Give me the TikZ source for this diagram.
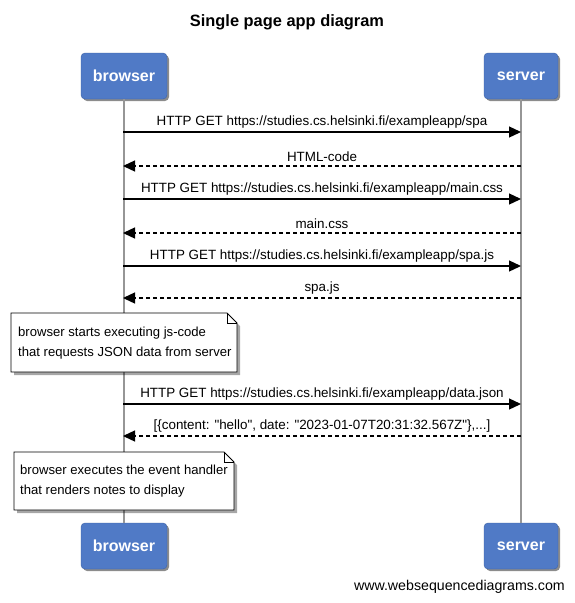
\documentclass[tikz,border=0pt]{standalone}
\usepackage{fontspec}
\setmainfont{Liberation Sans}[Ligatures=TeXOff]
\usetikzlibrary{arrows.meta,shadows}
\definecolor{boxblue}{RGB}{80,122,198}
\definecolor{boxedge}{RGB}{62,98,165}
\definecolor{lifegray}{RGB}{150,150,150}
\begin{document}
\begin{tikzpicture}[x=1pt,y=-1pt,
  actor/.style={draw=boxedge, fill=boxblue, rounded corners=4pt, minimum height=46pt, inner sep=0pt,
    text=white, font=\fontsize{16}{19}\selectfont\bfseries,
    drop shadow={shadow xshift=2pt, shadow yshift=-2pt, opacity=0.45, fill=black}},
  lifeline/.style={draw=lifegray, line width=1.6pt},
  msg/.style={draw=black, line width=1.3pt, -{Triangle[length=12pt,width=11pt]}},
  reply/.style={msg, dash pattern=on 4pt off 3pt},
  lbl/.style={font=\fontsize{13.4}{15}\selectfont, inner sep=0pt},
  notebox/.style={draw=black, fill=white, line width=0.8pt},
  noteshadow/.style={fill=black, opacity=0.35},
  notetext/.style={font=\fontsize{13.1}{20}\selectfont, align=left, inner sep=0pt, anchor=west}
]
\useasboundingbox[fill=white] (0,0) rectangle (574,603);

\node[font=\fontsize{16.4}{19}\selectfont\bfseries] (title) at (287,22) {Single page app diagram};

\node[actor, minimum width=86pt] (bt) at (124,76) {browser};
\node[actor, minimum width=74pt] (st) at (521,76) {server};
\node[actor, minimum width=86pt] (bb) at (124,546) {browser};
\node[actor, minimum width=74pt] (sb) at (521,546) {server};

\draw[lifeline] (bt.south) -- (bb.north);
\draw[lifeline] (st.south) -- (sb.north);

% messages
\coordinate (b1) at (123,132); \coordinate (s1) at (521,132);
\coordinate (b2) at (123,166); \coordinate (s2) at (521,166);
\coordinate (b3) at (123,199); \coordinate (s3) at (521,199);
\coordinate (b4) at (123,233); \coordinate (s4) at (521,233);
\coordinate (b5) at (123,266); \coordinate (s5) at (521,266);
\coordinate (b6) at (123,298); \coordinate (s6) at (521,298);
\coordinate (b7) at (123,404); \coordinate (s7) at (521,404);
\coordinate (b8) at (123,436); \coordinate (s8) at (521,436);

\draw[msg] (b1) -- (s1) node[lbl, midway, above=3.5pt] (m1) {HTTP GET https://studies.cs.helsinki.fi/exampleapp/spa};
\draw[reply] (s2) -- (b2) node[lbl, midway, above=3.5pt] (m2) {HTML-code};
\draw[msg] (b3) -- (s3) node[lbl, midway, above=3.5pt] (m3) {HTTP GET https://studies.cs.helsinki.fi/exampleapp/main.css};
\draw[reply] (s4) -- (b4) node[lbl, midway, above=3.5pt] (m4) {main.css};
\draw[msg] (b5) -- (s5) node[lbl, midway, above=3.5pt] (m5) {HTTP GET https://studies.cs.helsinki.fi/exampleapp/spa.js};
\draw[reply] (s6) -- (b6) node[lbl, midway, above=3.5pt] (m6) {spa.js};
\draw[msg] (b7) -- (s7) node[lbl, midway, above=3.5pt] (m7) {HTTP GET https://studies.cs.helsinki.fi/exampleapp/data.json};
\draw[reply] (s8) -- (b8) node[lbl, midway, above=3.5pt] (m8) {[\{content: "hello", date: "2023-01-07T20:31:32.567Z"\},...]};

% note 1
\fill[noteshadow] (14,316) -- (230,316) -- (240,326) -- (240,375) -- (14,375) -- cycle;
\draw[notebox] (11,313) -- (227,313) -- (237,323) -- (237,372) -- (11,372) -- cycle;
\draw[line width=0.8pt] (227,313) -- (227,323) -- (237,323);
\node[notetext] (n1) at (18,343) {browser starts executing js-code\\that requests JSON data from server};

% note 2
\fill[noteshadow] (17,455) -- (227,455) -- (237,465) -- (237,513) -- (17,513) -- cycle;
\draw[notebox] (14,452) -- (224,452) -- (234,462) -- (234,510) -- (14,510) -- cycle;
\draw[line width=0.8pt] (224,452) -- (224,462) -- (234,462);
\node[notetext] (n2) at (20,481) {browser executes the event handler\\that renders notes to display};

\node[font=\fontsize{14.2}{16}\selectfont, anchor=east, inner sep=0pt] (foot) at (565,587) {www.websequencediagrams.com};
\end{tikzpicture}
\end{document}
